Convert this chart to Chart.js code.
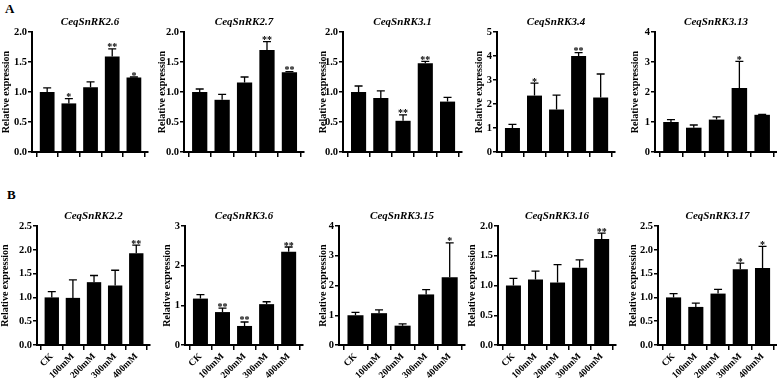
<!DOCTYPE html>
<html><head><meta charset="utf-8">
<script src="https://cdn.jsdelivr.net/npm/chart.js@4.4.0/dist/chart.umd.min.js"></script>
<style>
html,body{margin:0;padding:0;background:#fff;width:777px;height:378px;overflow:hidden;}
#wrap{position:relative;width:777px;height:378px;overflow:hidden;background:#fff;}
#wrap canvas{position:absolute;}
.plab{position:absolute;font:bold 13px 'Liberation Serif','Times New Roman',serif;line-height:13px;color:#000;}
</style></head><body>
<div id="wrap">
<div class="plab" style="left:5px;top:2px">A</div>
<div class="plab" style="left:7px;top:188px">B</div>
</div>
<script>
// ---- data ----
const categories = ['CK', '100mM', '200mM', '300mM', '400mM'];
const genesA = ['CeqSnRK2.6', 'CeqSnRK2.7', 'CeqSnRK3.1', 'CeqSnRK3.4', 'CeqSnRK3.13'];
const genesB = ['CeqSnRK2.2', 'CeqSnRK3.6', 'CeqSnRK3.15', 'CeqSnRK3.16', 'CeqSnRK3.17'];

const meanSnRK2_6 = [1.00, 0.81, 1.08, 1.59, 1.24];
const errSnRK2_6  = [0.07, 0.08, 0.09, 0.13, 0.01];
const sigSnRK2_6  = ['', '*', '', '**', '*'];

const meanSnRK2_7 = [1.00, 0.87, 1.16, 1.70, 1.33];
const errSnRK2_7  = [0.05, 0.09, 0.09, 0.14, 0.01];
const sigSnRK2_7  = ['', '', '', '**', '**'];

const meanSnRK3_1 = [1.00, 0.90, 0.52, 1.48, 0.84];
const errSnRK3_1  = [0.10, 0.12, 0.10, 0.03, 0.07];
const sigSnRK3_1  = ['', '', '**', '**', ''];

const meanSnRK3_4 = [1.00, 2.35, 1.77, 4.00, 2.27];
const errSnRK3_4  = [0.15, 0.52, 0.60, 0.14, 0.98];
const sigSnRK3_4  = ['', '*', '', '**', ''];

const meanSnRK3_13 = [1.00, 0.81, 1.08, 2.13, 1.24];
const errSnRK3_13  = [0.08, 0.09, 0.09, 0.89, 0.01];
const sigSnRK3_13  = ['', '', '', '*', ''];

const meanSnRK2_2 = [1.00, 0.99, 1.32, 1.25, 1.93];
const errSnRK2_2  = [0.12, 0.38, 0.14, 0.32, 0.17];
const sigSnRK2_2  = ['', '', '', '', '**'];

const meanSnRK3_6 = [1.17, 0.83, 0.48, 1.03, 2.35];
const errSnRK3_6  = [0.10, 0.10, 0.10, 0.06, 0.12];
const sigSnRK3_6  = ['', '**', '**', '', '**'];

const meanSnRK3_15 = [1.00, 1.07, 0.65, 1.70, 2.28];
const errSnRK3_15  = [0.10, 0.11, 0.06, 0.16, 1.15];
const sigSnRK3_15  = ['', '', '', '', '*'];

const meanSnRK3_16 = [1.00, 1.10, 1.05, 1.30, 1.78];
const errSnRK3_16  = [0.12, 0.14, 0.30, 0.13, 0.10];
const sigSnRK3_16  = ['', '', '', '', '**'];

const meanSnRK3_17 = [1.00, 0.80, 1.08, 1.59, 1.62];
const errSnRK3_17  = [0.08, 0.08, 0.09, 0.13, 0.45];
const sigSnRK3_17  = ['', '', '', '*', '*'];

const yMaxes = [2, 2, 2, 5, 4, 2.5, 3, 4, 2, 2.5];
const ySteps = [0.5, 0.5, 0.5, 1, 1, 0.5, 1, 1, 0.5, 0.5];
const yLabel = 'Relative expression';

// ---- layout (pixel geometry of each panel) ----
const rowA = {top: 32, bottom: 151.5, labels: false};
const rowB = {top: 226, bottom: 345, labels: true};
const geomA = [
  {l: 32, r: 148, ylab: 6},
  {l: 184, r: 304, ylab: 162},
  {l: 343, r: 462, ylab: 323},
  {l: 497, r: 615, ylab: 479},
  {l: 655, r: 777, ylab: 635}
];
const geomB = [
  {l: 37, r: 150, ylab: 5},
  {l: 185, r: 303, ylab: 167},
  {l: 339, r: 465, ylab: 323},
  {l: 498, r: 616, ylab: 472},
  {l: 658, r: 777, ylab: 633}
];
const XMIN = -0.7, XMAX = 4.65;

Chart.defaults.font.family = "'Liberation Serif','Times New Roman',serif";
Chart.defaults.color = '#000';

const panels = [
  {gene: genesA[0], mean: meanSnRK2_6, err: errSnRK2_6, sig: sigSnRK2_6},
  {gene: genesA[1], mean: meanSnRK2_7, err: errSnRK2_7, sig: sigSnRK2_7},
  {gene: genesA[2], mean: meanSnRK3_1, err: errSnRK3_1, sig: sigSnRK3_1},
  {gene: genesA[3], mean: meanSnRK3_4, err: errSnRK3_4, sig: sigSnRK3_4},
  {gene: genesA[4], mean: meanSnRK3_13, err: errSnRK3_13, sig: sigSnRK3_13},
  {gene: genesB[0], mean: meanSnRK2_2, err: errSnRK2_2, sig: sigSnRK2_2},
  {gene: genesB[1], mean: meanSnRK3_6, err: errSnRK3_6, sig: sigSnRK3_6},
  {gene: genesB[2], mean: meanSnRK3_15, err: errSnRK3_15, sig: sigSnRK3_15},
  {gene: genesB[3], mean: meanSnRK3_16, err: errSnRK3_16, sig: sigSnRK3_16},
  {gene: genesB[4], mean: meanSnRK3_17, err: errSnRK3_17, sig: sigSnRK3_17}
];

const wrap = document.getElementById('wrap');
const TITLE_H = 20; // 11px*1.2 + padding 4 + 2.8

function makePanel(idx) {
  const p = panels[idx];
  const isB = idx >= 5;
  const row = isB ? rowB : rowA;
  const g = isB ? geomB[idx - 5] : geomA[idx];
  const yMax = yMaxes[idx], yStep = ySteps[idx];
  const canvasLeft = g.ylab - 6;
  const canvasTop = row.top - TITLE_H;
  const yW = g.l - canvasLeft;
  const xH = row.labels ? 45 : 14;
  const padR = 12;
  const W = Math.round(g.r - canvasLeft + padR);
  const H = Math.round(row.bottom - row.top + TITLE_H + xH);
  const c = document.createElement('canvas');
  c.width = W; c.height = H;
  c.style.left = canvasLeft + 'px';
  c.style.top = canvasTop + 'px';
  c.style.width = W + 'px'; c.style.height = H + 'px';
  wrap.appendChild(c);

  const errPlugin = {
    id: 'errbars' + idx,
    afterDatasetsDraw(chart) {
      const ctx = chart.ctx;
      const ys = chart.scales.y;
      const meta = chart.getDatasetMeta(0);
      ctx.save();
      ctx.strokeStyle = '#000';
      ctx.fillStyle = '#000';
      ctx.lineWidth = 1.3;
      meta.data.forEach((bar, i) => {
        const x = bar.x;
        const yTop = ys.getPixelForValue(p.mean[i]);
        const yE = ys.getPixelForValue(p.mean[i] + p.err[i]);
        ctx.beginPath();
        ctx.moveTo(x, yTop); ctx.lineTo(x, yE);
        ctx.moveTo(x - 4, yE); ctx.lineTo(x + 4, yE);
        ctx.stroke();
        if (p.sig[i]) {
          ctx.font = "bold 10px 'Liberation Serif','Times New Roman',serif";
          ctx.textAlign = 'center';
          ctx.textBaseline = 'alphabetic';
          ctx.fillText(p.sig[i], x, yE + 1.5);
        }
      });
      ctx.restore();
    }
  };

  new Chart(c, {
    type: 'bar',
    data: {
      datasets: [{
        data: p.mean.map((v, i) => ({x: i, y: v})),
        backgroundColor: '#000',
        borderWidth: 0,
        barPercentage: 0.68,
        categoryPercentage: 1
      }]
    },
    options: {
      responsive: false,
      devicePixelRatio: 1,
      animation: false,
      events: [],
      layout: {padding: {left: 0, right: padR, top: 0, bottom: 0}},
      plugins: {
        legend: {display: false},
        tooltip: {enabled: false},
        title: {
          display: true, text: p.gene, fullSize: false,
          font: {size: 11, weight: 'bold', style: 'italic'},
          color: '#000',
          padding: {top: 4, bottom: 2.8}
        }
      },
      scales: {
        x: {
          type: 'linear', min: XMIN, max: XMAX, offset: false,
          ticks: {
            stepSize: 1, includeBounds: false, display: row.labels, autoSkip: false,
            minRotation: 45, maxRotation: 45, padding: 1,
            font: {size: 9.5, weight: 'bold'}, color: '#000',
            callback: v => categories[v]
          },
          grid: {display: true, drawOnChartArea: false, drawTicks: true, tickLength: 5, color: '#000', lineWidth: 1.5},
          border: {display: true, color: '#000', width: 2},
          afterFit: s => { s.height = xH; }
        },
        y: {
          min: 0, max: yMax,
          ticks: {
            stepSize: yStep, padding: 1,
            font: {size: 10.5, weight: 'bold'}, color: '#000',
            callback: v => (yStep < 1 ? v.toFixed(1) : v.toFixed(0))
          },
          grid: {display: true, drawOnChartArea: false, drawTicks: true, tickLength: 4, color: '#000', lineWidth: 1.5},
          border: {display: true, color: '#000', width: 2},
          title: {display: true, text: yLabel, color: '#000', font: {size: 10, weight: 'bold'}, padding: {top: 0, bottom: 0}},
          afterFit: s => { s.width = yW; }
        }
      }
    },
    plugins: [errPlugin]
  });
}

for (let i = 0; i < panels.length; i++) makePanel(i);
</script>
</body></html>
